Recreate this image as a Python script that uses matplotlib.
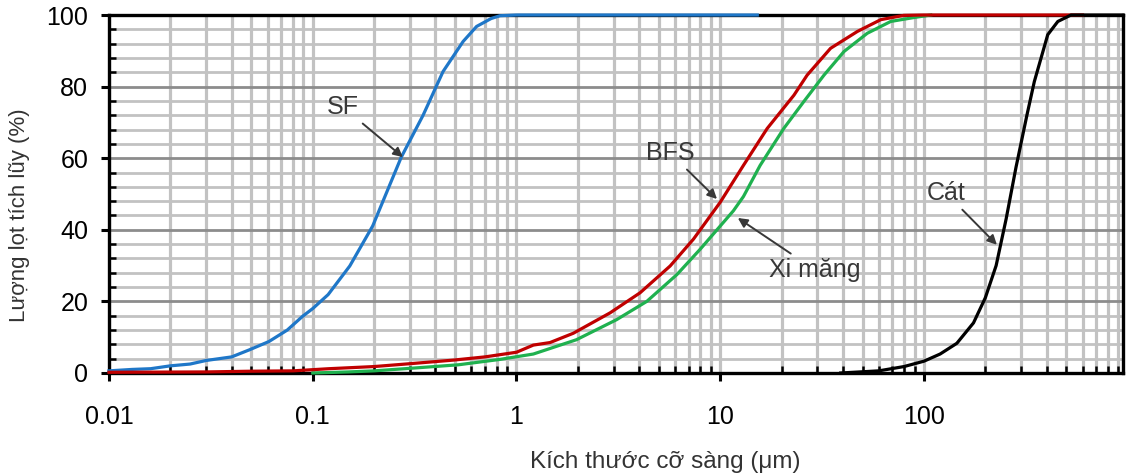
import matplotlib
matplotlib.use("Agg")
import matplotlib.pyplot as plt
from matplotlib.ticker import LogLocator, FixedLocator, NullFormatter, FuncFormatter

# ---- data ----
sf_x = [0.01, 0.013, 0.016, 0.02, 0.025, 0.03, 0.04, 0.049, 0.061, 0.075, 0.089, 0.1,
        0.119, 0.152, 0.197, 0.272, 0.348, 0.436, 0.547, 0.637, 0.75, 0.83, 1.0, 2, 5, 10, 15.2]
sf_y = [0.6, 1.0, 1.2, 2.0, 2.5, 3.5, 4.5, 6.5, 8.8, 12.0, 15.8, 18.0,
        21.9, 29.9, 41.1, 60.3, 72.0, 84.2, 92.6, 96.8, 99.0, 99.8, 100, 100, 100, 100, 100]

bfs_x = [0.01, 0.03, 0.05, 0.08, 0.12, 0.2, 0.3, 0.49, 0.7, 1.0, 1.21, 1.46, 1.9, 2.88,
         4.04, 5.68, 7.39, 10, 13, 17, 23, 26.7, 34.8, 47.1, 61.4, 79.6, 100, 200, 600]
bfs_y = [0.2, 0.3, 0.5, 0.6, 1.2, 1.8, 2.6, 3.6, 4.5, 5.8, 7.8, 8.5, 11.1, 16.8,
         22.4, 29.9, 37.4, 47.7, 58.0, 68.3, 77.6, 83.2, 90.7, 95.4, 98.7, 99.9, 100, 100, 100]

xm_x = [0.1, 0.15, 0.2, 0.3, 0.52, 0.83, 1.21, 1.97, 3.10, 4.36, 6.13, 7.98, 11.6, 13.0,
        15.7, 20.5, 25.7, 32.3, 40.5, 52.7, 68.7, 89.4, 108]
xm_y = [0.0, 0.3, 0.6, 1.3, 2.3, 3.8, 5.3, 9.3, 14.9, 20.0, 27.5, 34.6, 45.3, 49.3,
        58.0, 68.3, 75.8, 83.2, 89.8, 94.9, 98.2, 99.3, 100]

cat_x = [39, 60, 79.8, 100, 120, 145, 175, 200, 226, 253, 283, 320, 348, 405, 454, 527, 948]
cat_y = [0.0, 0.6, 1.8, 3.3, 5.3, 8.3, 14.0, 21.0, 30.0, 43.0, 57.5, 72.0, 81.4, 94.5, 98.2, 100, 100]

x_ticks = [0.01, 0.1, 1, 10, 100]
x_tick_labels = ["0.01", "0.1", "1", "10", "100"]
y_ticks = [0, 20, 40, 60, 80, 100]

plt.rcParams['font.family'] = ['Liberation Sans', 'DejaVu Sans']

fig = plt.figure(figsize=(11.27, 4.75), dpi=100)
W, H = 1127, 475
left_px, right_px, top_px, bot_px = 109, 1123, 15, 373
ax = fig.add_axes([left_px / W, 1 - bot_px / H, (right_px - left_px) / W, (bot_px - top_px) / H])

ax.set_xscale('log')
ax.set_xlim(0.01, 948)
ax.set_ylim(0, 100)

# ticks & grid
ax.xaxis.set_major_locator(FixedLocator(x_ticks))
ax.xaxis.set_major_formatter(FuncFormatter(lambda v, p: dict(zip(x_ticks, x_tick_labels)).get(v, "")))
ax.xaxis.set_minor_locator(LogLocator(base=10, subs=[2, 3, 4, 5, 6, 7, 8, 9], numticks=20))
ax.xaxis.set_minor_formatter(NullFormatter())
ax.set_yticks(y_ticks)
ax.yaxis.set_minor_locator(FixedLocator([v for v in range(0, 101, 4) if v % 20 != 0]))

ax.grid(True, which='both', axis='x', color='#c2c2c2', lw=2.3, zorder=0)
ax.grid(True, which='minor', axis='y', color='#c2c2c2', lw=2.0, zorder=0)
ax.grid(True, which='major', axis='y', color='#8c8c8c', lw=2.0, zorder=0)
ax.set_axisbelow(True)

for s in ax.spines.values():
    s.set_linewidth(2.4)
    s.set_color('black')

ax.tick_params(which='major', direction='out', length=6, width=2.2, labelsize=18, color='black')
ax.tick_params(which='minor', direction='in', length=5, width=1.8, color='black')
ax.tick_params(axis='x', which='major', pad=17)
ax.tick_params(axis='y', which='major', pad=9)
ax.tick_params(which='both', top=False, right=False)

# curves
lw = 2.3
ax.plot(sf_x, sf_y, color='#1f77c8', lw=lw, zorder=3, clip_on=False)
ax.plot(xm_x, xm_y, color='#1fb14f', lw=lw, zorder=3, clip_on=False)
ax.plot(bfs_x, bfs_y, color='#c00000', lw=lw, zorder=3.1, clip_on=False)
ax.plot(cat_x, cat_y, color='black', lw=lw, zorder=3.2, clip_on=False)

# annotations
ann_col = '#383838'
ap = dict(arrowstyle='-|>', color=ann_col, lw=1.4, mutation_scale=14, shrinkA=2, shrinkB=0)
ax.annotate('SF', xy=(0.277, 60.3), xytext=(0.1406, 74.3), ha='center', va='center',
            fontsize=18, color=ann_col, arrowprops=ap, zorder=5)
ax.annotate('BFS', xy=(9.64, 48.6), xytext=(5.66, 61.5), ha='center', va='center',
            fontsize=18, color=ann_col, arrowprops=ap, zorder=5)
ax.annotate('Xi măng', xy=(12.2, 43.3), xytext=(29.2, 28.8), ha='center', va='center',
            fontsize=18, color=ann_col, arrowprops=ap, zorder=5)
ax.annotate('Cát', xy=(228, 35.8), xytext=(128, 50.3), ha='center', va='center',
            fontsize=18, color=ann_col, arrowprops=ap, zorder=5)

ax.set_xlabel('Kích thước cỡ sàng (μm)', fontsize=17.5, color='#333333', va='center')
ax.xaxis.set_label_coords((665 - left_px) / (right_px - left_px), (bot_px - 462) / (bot_px - top_px))
ax.set_ylabel('Lượng lọt tích lũy (%)', fontsize=16, color='#333333', va='center')
ax.yaxis.set_label_coords((20 - left_px) / (right_px - left_px), (bot_px - 215) / (bot_px - top_px))

fig.savefig('out.png', dpi=100)
